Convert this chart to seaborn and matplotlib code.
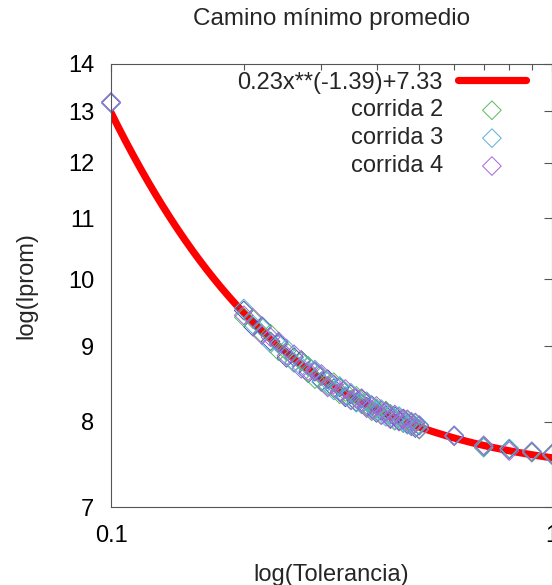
import numpy as np
import pandas as pd
import matplotlib
matplotlib.use("Agg")
import matplotlib.pyplot as plt
import matplotlib.ticker as mticker
import seaborn as sns

# fit parameters (from the legend)
fit_a = 0.23
fit_b = -1.39
fit_c = 7.33

tolerancia = [0.10,
              0.20, 0.21, 0.22, 0.23, 0.24, 0.25, 0.26, 0.27, 0.28, 0.29,
              0.30, 0.31, 0.32, 0.33, 0.34, 0.35, 0.36, 0.37, 0.38, 0.39,
              0.40, 0.41, 0.42, 0.43, 0.44, 0.45, 0.46, 0.47, 0.48, 0.49,
              0.50, 0.60, 0.70, 0.80, 0.90, 1.00]

corrida_1 = [13.17,
             9.52, 9.28, 9.29, 9.07, 9.05, 8.84, 8.85, 8.81, 8.63, 8.65,
             8.52, 8.55, 8.43, 8.44, 8.31, 8.35, 8.25, 8.29, 8.19, 8.21,
             8.11, 8.14, 8.13, 8.04, 8.07, 8.01, 8.04, 7.97, 7.99, 7.92,
             7.95, 7.83, 7.69, 7.66, 7.63, 7.60]
corrida_2 = [13.19,
             9.42, 9.39, 9.18, 9.18, 8.93, 8.93, 8.77, 8.79, 8.73, 8.55,
             8.59, 8.46, 8.51, 8.35, 8.38, 8.28, 8.33, 8.22, 8.25, 8.13,
             8.17, 8.09, 8.14, 8.09, 8.01, 8.06, 7.98, 8.02, 7.95, 7.98,
             7.90, 7.82, 7.70, 7.67, 7.62, 7.61]
corrida_3 = [13.18,
             9.55, 9.31, 9.27, 9.04, 9.03, 8.97, 8.78, 8.72, 8.72, 8.68,
             8.51, 8.52, 8.40, 8.46, 8.33, 8.37, 8.24, 8.23, 8.26, 8.20,
             8.12, 8.16, 8.06, 8.10, 8.02, 8.07, 7.99, 7.96, 8.00, 7.93,
             7.96, 7.83, 7.68, 7.67, 7.64, 7.59]
corrida_4 = [13.19,
             9.45, 9.41, 9.16, 9.13, 9.07, 8.87, 8.89, 8.69, 8.66, 8.66,
             8.62, 8.44, 8.48, 8.38, 8.42, 8.27, 8.30, 8.30, 8.17, 8.15,
             8.20, 8.08, 8.12, 8.03, 8.09, 8.00, 8.03, 8.03, 7.94, 7.99,
             7.91, 7.82, 7.71, 7.64, 7.63, 7.60]

runs = [
    ("_nolegend_", corrida_1, "#3a56a8"),
    ("corrida 2", corrida_2, "#55bb55"),
    ("corrida 3", corrida_3, "#5ab0d4"),
    ("corrida 4", corrida_4, "#a862e0"),
]

sns.set_theme(style="white")
plt.rcParams["font.family"] = ["Liberation Sans", "DejaVu Sans"]
plt.rcParams["axes.edgecolor"] = "#555555"
plt.rcParams["axes.linewidth"] = 0.8

fig = plt.figure(figsize=(5.52, 5.85), dpi=100)
ax = fig.add_axes([111 / 552, 1 - 507 / 585, 441 / 552, 443 / 585])

# fitted curve
x_fit = np.geomspace(0.1, 1.0, 300)
fit_df = pd.DataFrame({"x": x_fit, "y": fit_a * x_fit ** fit_b + fit_c})
sns.lineplot(data=fit_df, x="x", y="y", ax=ax, color="#ff0000", linewidth=5.2,
             label="0.23x**(-1.39)+7.33", zorder=1)

for name, vals, col in runs:
    sns.scatterplot(x=tolerancia, y=vals, ax=ax, marker="D", s=90,
                    color=col, facecolor="none", edgecolor=col,
                    linewidth=0.7, label=name, zorder=2, clip_on=False)

ax.set_xscale("log")
ax.set_yscale("log")
ax.set_xlim(0.1, 1.0)
ax.set_ylim(7, 14)

ax.xaxis.set_major_locator(mticker.FixedLocator([0.1, 1.0]))
ax.xaxis.set_major_formatter(mticker.FixedFormatter(["0.1", "1"]))
ax.xaxis.set_minor_locator(mticker.FixedLocator([0.2, 0.3, 0.4, 0.5, 0.6, 0.7, 0.8, 0.9]))
ax.xaxis.set_minor_formatter(mticker.NullFormatter())
yt = [7, 8, 9, 10, 11, 12, 13, 14]
ax.yaxis.set_major_locator(mticker.FixedLocator(yt))
ax.yaxis.set_major_formatter(mticker.FixedFormatter([str(v) for v in yt]))
ax.yaxis.set_minor_locator(mticker.NullLocator())

ax.tick_params(which="both", direction="in", top=True, right=True,
               color="#555555", width=0.8)
ax.tick_params(which="major", length=6, labelsize=17, colors="#555555",
               labelcolor="black")
ax.tick_params(which="minor", length=4)
ax.tick_params(axis="x", which="major", pad=13)
ax.tick_params(axis="y", which="major", pad=12)

ax.set_title("Camino mínimo promedio", fontsize=17.5, pad=28)
ax.set_xlabel("log(Tolerancia)", fontsize=17, labelpad=12)
ax.set_ylabel("log(lprom)", fontsize=17, labelpad=22)

leg = ax.legend(loc="upper right", bbox_to_anchor=(0.94, 0.983), frameon=False,
                markerfirst=False, fontsize=17, handlelength=2.85,
                handletextpad=0.65, labelspacing=0.25, borderpad=0,
                borderaxespad=0, scatterpoints=1)

fig.savefig("out.png", dpi=100)
